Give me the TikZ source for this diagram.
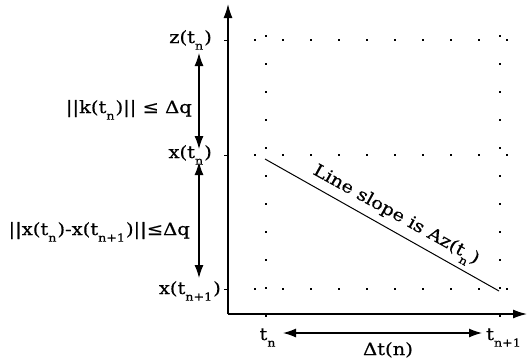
\documentclass[tikz,border=0pt]{standalone}
\usepackage{fontspec}
\setmainfont{DejaVu Serif}
\newfontfamily\lblfont[FakeStretch=1.15,FakeBold=0.6]{DejaVu Serif}
\usetikzlibrary{arrows.meta}
\newcommand{\lsub}[1]{\raisebox{-0.75ex}{\fontsize{11}{12}\selectfont #1}\kern1pt}
\begin{document}
\begin{tikzpicture}[x=1pt,y=-1pt,
  axis/.style={line width=1.4pt,-{Latex[length=14pt,width=9pt]}},
  dbl/.style={line width=1.2pt,{Latex[length=13pt,width=9pt]}-{Latex[length=13pt,width=9pt]}},
  dotline/.style={line width=1.8pt,dash pattern=on 1.8pt off 26.2pt},
  lbl/.style={font=\lblfont\fontsize{17}{19}\selectfont,inner sep=0pt}]
\useasboundingbox (0,0) rectangle (527,362);
% axes
\coordinate (O) at (228,314);
\coordinate (ytop) at (228,4);
\coordinate (xend) at (527,314);
\draw[axis] (O) -- (ytop);
\draw[axis] (O) -- (xend);
% ticks
\coordinate (tz) at (228,40);
\coordinate (tx) at (228,155);
\coordinate (tx1) at (228,289);
\draw[line width=1pt] (tz) -- ++(-4,0);
\draw[line width=1pt] (tx) -- ++(-4,0);
\draw[line width=1pt] (tx1) -- ++(-4,0);
% dotted grid
\coordinate (h1a) at (254,40); \coordinate (h1b) at (510,40);
\coordinate (h2a) at (254,155); \coordinate (h2b) at (510,155);
\coordinate (h3a) at (254,289); \coordinate (h3b) at (510,289);
\coordinate (v1a) at (266,35); \coordinate (v1b) at (266,322);
\coordinate (v2a) at (500,35); \coordinate (v2b) at (500,322);
\draw[dotline] (h1a) -- (h1b);
\draw[dotline] (h2a) -- (h2b);
\draw[dotline] (h3a) -- (h3b);
\draw[dotline] (v1a) -- (v1b);
\draw[dotline] (v2a) -- (v2b);
% slope line
\coordinate (la) at (265,159);
\coordinate (lb) at (499,291);
\draw[line width=1pt] (la) -- (lb);
\node[lbl,rotate=-29,anchor=base] (slope) at (394,219) {Line slope is Az(t\lsub{n})};
% y labels
\node[lbl,anchor=base east] (zl) at (212,43) {z(t\lsub{n})};
\node[lbl,anchor=base east] (xl) at (212,158) {x(t\lsub{n})};
\node[lbl,anchor=base east] (x1l) at (221,294) {x(t\lsub{n+1})};
% vertical double arrows
\coordinate (a1) at (199,53);
\coordinate (a2) at (199,149);
\coordinate (a3) at (199,162);
\coordinate (a4) at (199,278);
\draw[dbl] (a1) -- (a2);
\draw[dbl] (a3) -- (a4);
\node[lbl,anchor=base east] (kl) at (192,113) {||k(t\lsub{n})|| ≤ Δq};
\node[lbl,anchor=base east] (dl) at (190,235) {||x(t\lsub{n})-x(t\lsub{n+1})||≤Δq};
% x labels
\node[lbl,anchor=base] (tn) at (268,340) {t\lsub{n}};
\node[lbl,anchor=base] (tn1) at (504,340) {t\lsub{n+1}};
\coordinate (b1) at (283,333);
\coordinate (b2) at (482,333);
\draw[dbl] (b1) -- (b2);
\node[lbl,anchor=base] (dt) at (388,355) {Δt(n)};
\end{tikzpicture}
\end{document}
